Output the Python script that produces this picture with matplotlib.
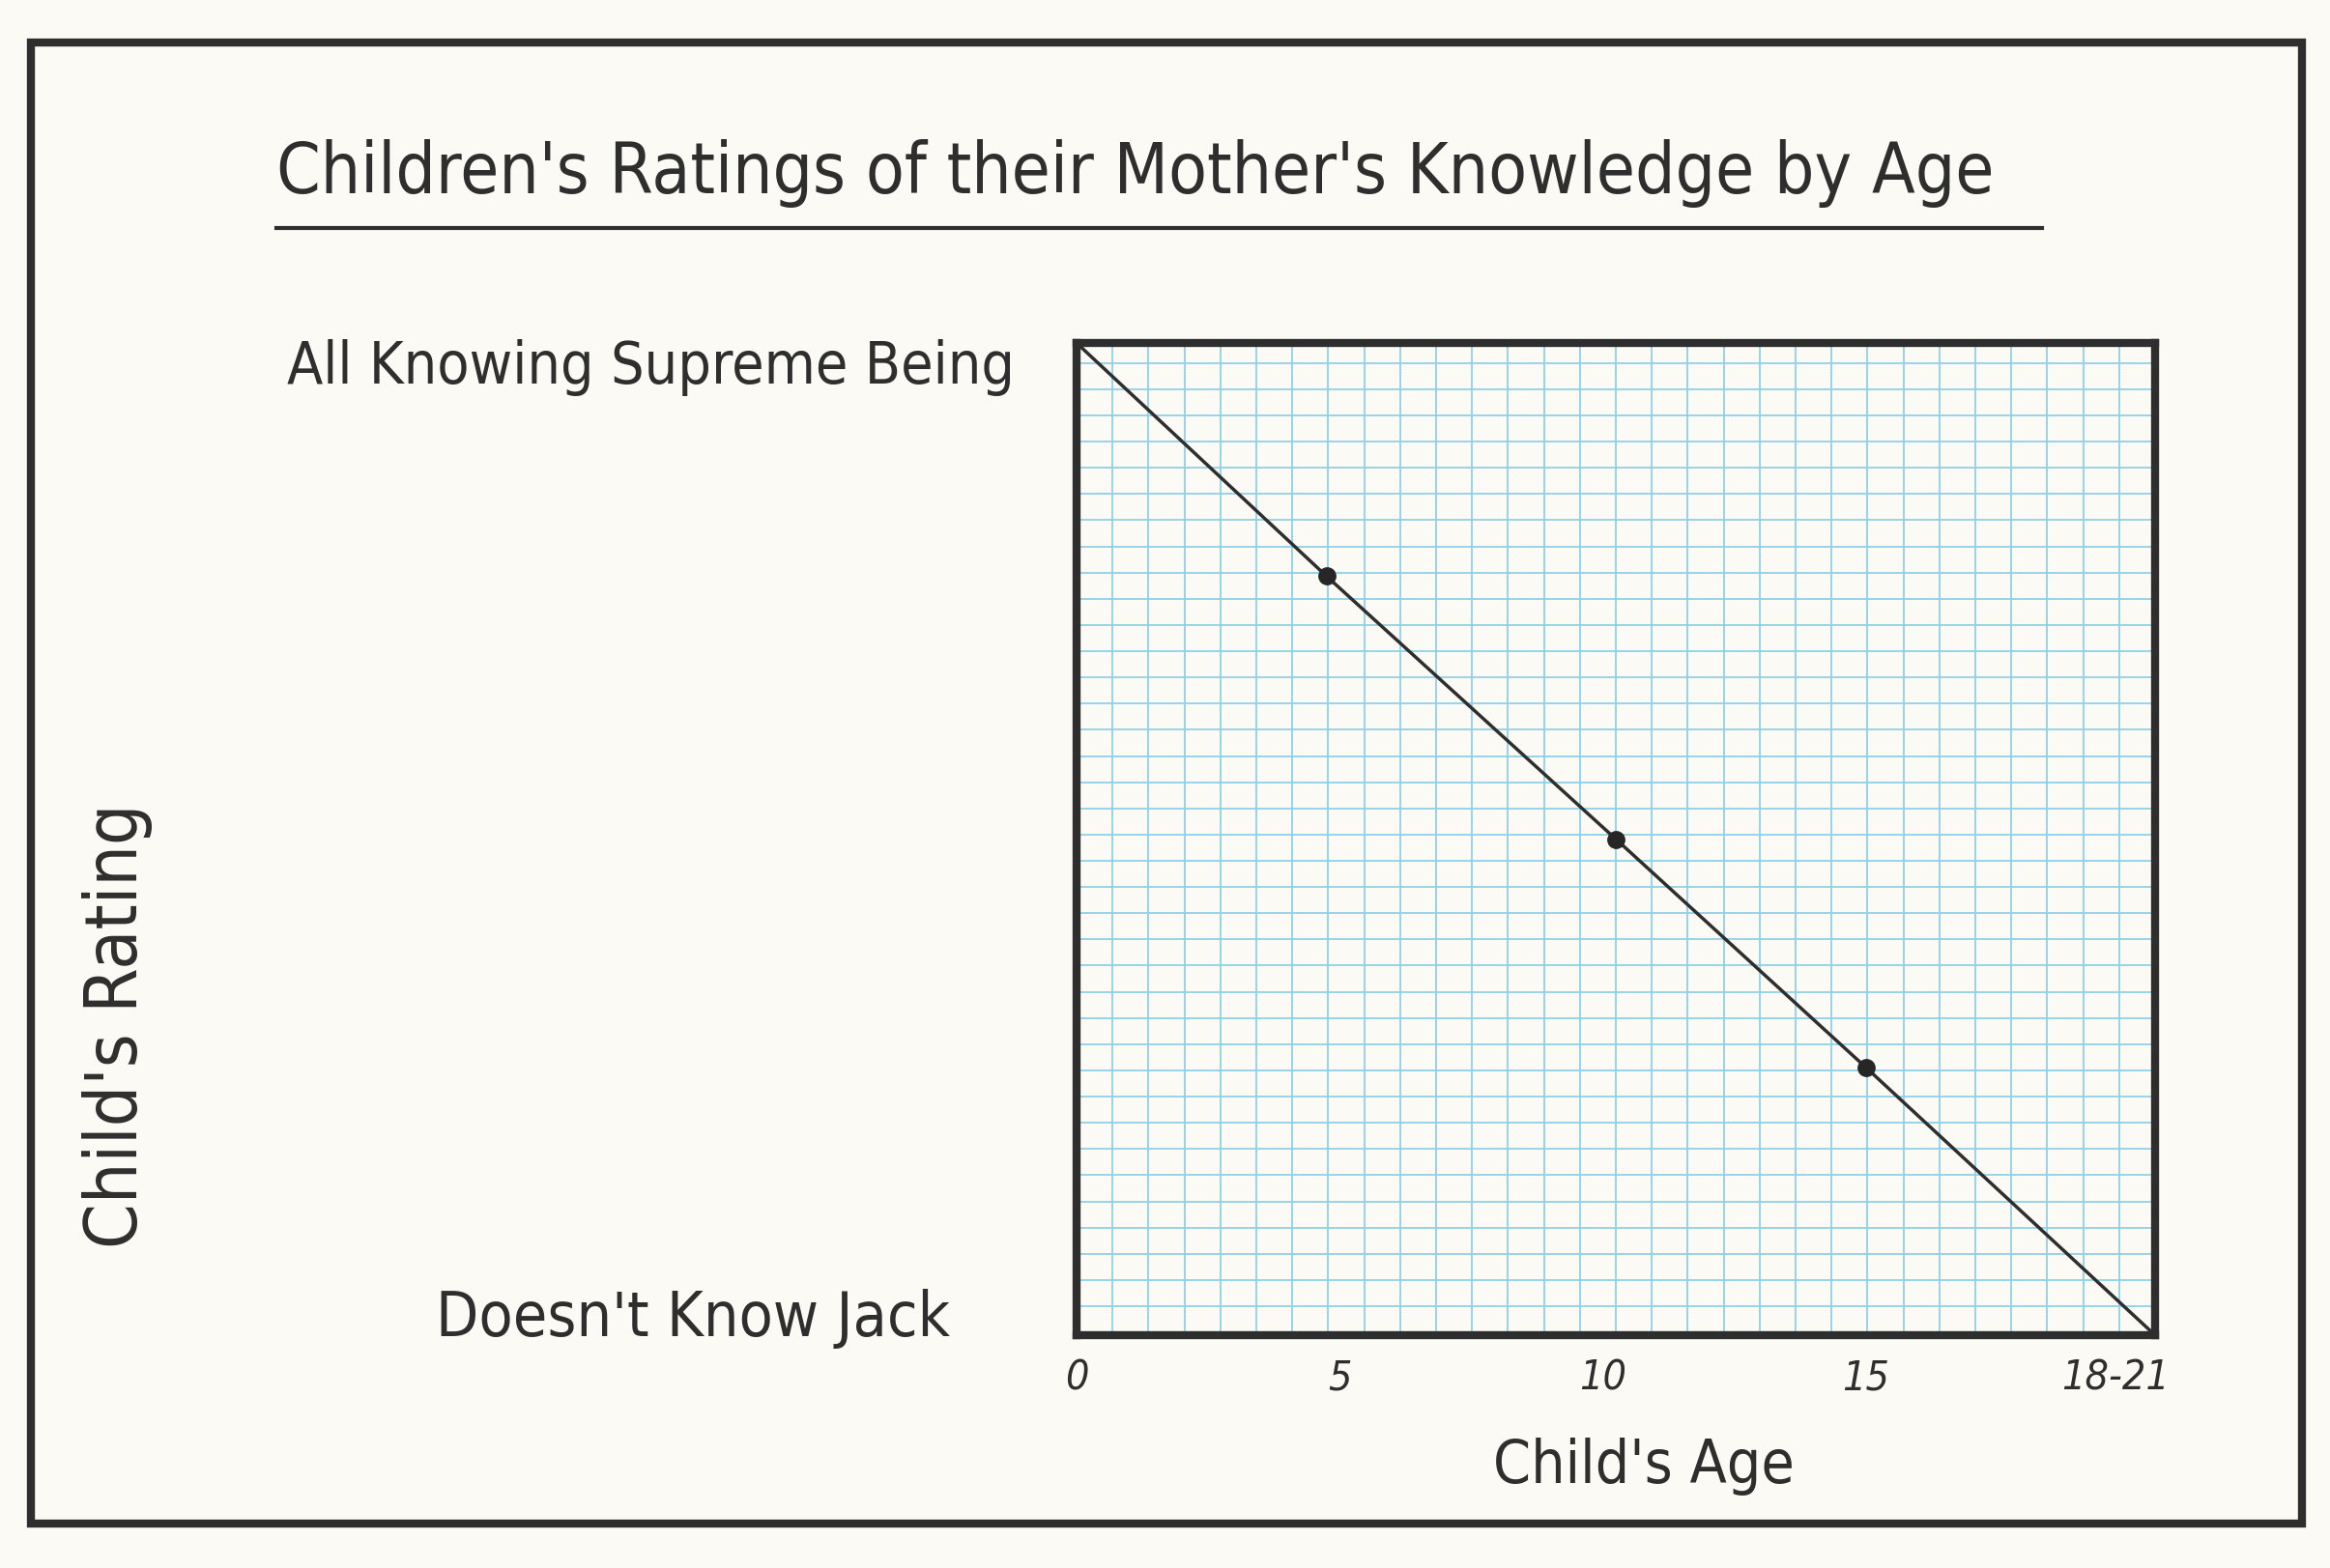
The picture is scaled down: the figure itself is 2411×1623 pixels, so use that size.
import numpy as np
import matplotlib
matplotlib.use("Agg")
import matplotlib.pyplot as plt
from matplotlib import font_manager as fm
from matplotlib.patches import Rectangle
from matplotlib.lines import Line2D

# ---------------- data ----------------
ages = [0, 4.75, 10.25, 15, 20.5]          # child's age (as drawn on the axis)
ratings = [100, 76.5, 50, 27, 0]           # child's rating of mother's knowledge
point_idx = [1, 2, 3]                      # marked points
tick_pos = [0, 5, 10, 15, 19.75]
tick_labels = ["0", "5", "10", "15", "18-21"]
title = "Children's Ratings of their Mother's Knowledge by Age"
top_label = "All Knowing Supreme Being"
bottom_label = "Doesn't Know Jack"
xlabel = "Child's Age"
ylabel = "Child's Rating"

# ---------------- style ----------------
W, H = 2411, 1624
BG = "#fbfaf5"
INK = "#2e2e2e"
GRID = "#8fd0e8"

names = {f.name for f in fm.fontManager.ttflist}
if "Liberation Sans Narrow" in names:
    FONT = dict(family="Liberation Sans Narrow")
else:
    FONT = dict(family="DejaVu Sans", stretch="condensed")

fig = plt.figure(figsize=(W / 100, H / 100), dpi=100, facecolor=BG)
renderer = fig.canvas.get_renderer()


def fit(t, target, dim="w"):
    bb = t.get_window_extent(renderer)
    cur = bb.width if dim == "w" else bb.height
    t.set_fontsize(t.get_fontsize() * target / cur)
    return t


# plot area
ax = fig.add_axes([1114 / W, 1 - 1383 / H, (2230 - 1114) / W, (1383 - 356) / H])
ax.set_facecolor(BG)
ax.set_xlim(0, ages[-1])
ax.set_ylim(0, 100)

# graph-paper grid
ax.set_xticks(np.arange(1, 30) * ages[-1] / 30, minor=True)
ax.set_yticks(np.linspace(2.92, 97.98, 37), minor=True)
ax.grid(which="minor", color=GRID, lw=1.3, zorder=0)
ax.tick_params(which="both", length=0)
ax.set_yticks([])

for s in ax.spines.values():
    s.set_linewidth(6)
    s.set_color(INK)
    s.set_zorder(5)

# the data
ax.plot(ages, ratings, color=INK, lw=2.5, zorder=3, clip_on=False, solid_capstyle="round")
ax.plot([ages[i] for i in point_idx], [ratings[i] for i in point_idx], "o",
        color="#262626", ms=12.5, zorder=4)

# x ticks
ax.set_xticks(tick_pos)
ax.set_xticklabels(tick_labels)
tmp = fig.text(0, 0, "18-21", fontsize=30, style="italic", **FONT)
fit(tmp, 112)
tfs = tmp.get_fontsize()
tmp.remove()
ax.tick_params(axis="x", which="major", pad=16, labelsize=tfs, labelcolor=INK)
for lab in ax.get_xticklabels():
    lab.set_fontstyle("italic")
    lab.set_family(FONT["family"])
    if "stretch" in FONT:
        lab.set_fontstretch(FONT["stretch"])

# axis labels
ax.set_xlabel(xlabel, color=INK, fontsize=40, va="baseline", **FONT)
ax.xaxis.set_label_coords((1701 - 1114) / (2230 - 1114), -(1535 - 1383) / (1383 - 356))
fit(ax.xaxis.label, 312)

ax.set_ylabel(ylabel, color=INK, fontsize=40, va="center", ha="center", **FONT)
ax.yaxis.set_label_coords((122 - 1114) / (2230 - 1114), (1383 - 1062) / (1383 - 356))
fit(ax.yaxis.label, 460, "h")

# rating anchors
t1 = ax.text((1050 - 1114) / (2230 - 1114), 96, top_label, transform=ax.get_yaxis_transform(),
             ha="right", va="baseline", color=INK, fontsize=40, **FONT)
fit(t1, 752)
t2 = ax.text((983 - 1114) / (2230 - 1114), 0, bottom_label, transform=ax.get_yaxis_transform(),
             ha="right", va="baseline", color=INK, fontsize=40, **FONT)
fit(t2, 530)

# title with underline
tt = fig.text(286 / W, 1 - 200 / H, title, ha="left", va="baseline", color=INK, fontsize=50, **FONT)
fit(tt, 1782)
fig.add_artist(Line2D([286 / W, 2113 / W], [1 - 237 / H] * 2, transform=fig.transFigure,
                      color=INK, lw=3))

# outer frame
fig.add_artist(Rectangle((32 / W, 1 - 1578 / H), (2382 - 32) / W, (1578 - 45) / H,
                         transform=fig.transFigure, fill=False, ec=INK, lw=6))

fig.savefig("out.png", dpi=100, facecolor=BG)
